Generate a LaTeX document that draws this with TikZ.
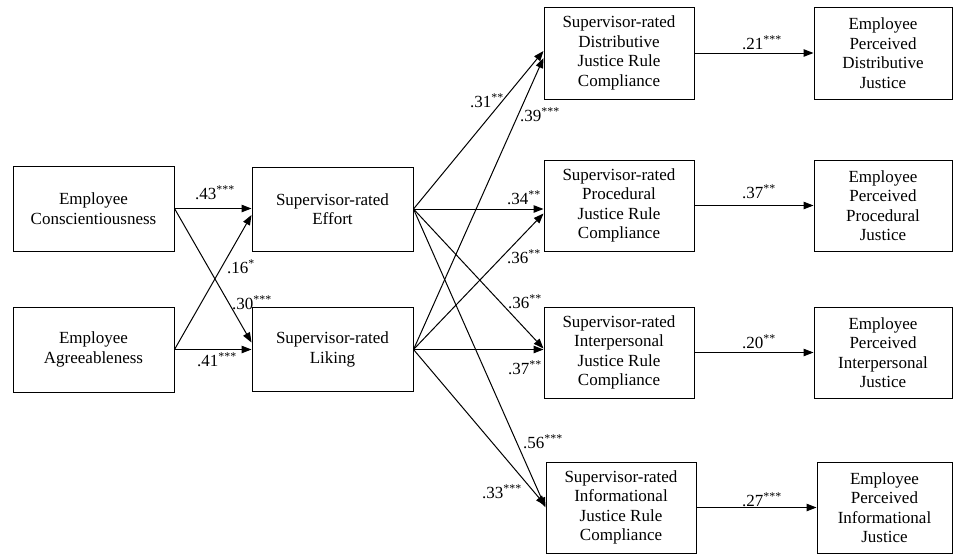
\documentclass[tikz,border=0pt]{standalone}
\usepackage{fontspec}
\setmainfont{Liberation Serif}
\usetikzlibrary{arrows.meta}
\begin{document}
\begin{tikzpicture}[x=1pt,y=-1pt,
  box/.style={draw, line width=1pt, align=center, inner sep=0pt, font=\fontsize{17}{19.5}\selectfont},
  arr/.style={-{Triangle[length=10pt,width=7.5pt]}, line width=1pt},
  lab/.style={anchor=west, inner sep=0pt, font=\fontsize{17}{19.5}\selectfont}]
\useasboundingbox (0,0) rectangle (953,554);
% left column
\node[box, minimum width=161pt, minimum height=85pt] (cons) at (93.5,208.5) {Employee\\Conscientiousness};
\node[box, minimum width=161pt, minimum height=85pt] (agr) at (93.5,349.5) {Employee\\Agreeableness};
% middle column
\node[box, minimum width=161pt, minimum height=84pt] (eff) at (332.5,209) {Supervisor-rated\\Effort};
\node[box, minimum width=161pt, minimum height=84pt] (lik) at (332.5,349.5) {Supervisor-rated\\Liking};
% rule compliance column
\node[box, minimum width=150pt, minimum height=92pt] (dist) at (619,53) {Supervisor-rated\\Distributive\\Justice Rule\\Compliance};
\node[box, minimum width=150pt, minimum height=91pt] (proc) at (619,205.5) {Supervisor-rated\\Procedural\\Justice Rule\\Compliance};
\node[box, minimum width=150pt, minimum height=91pt] (inter) at (619,352.5) {Supervisor-rated\\Interpersonal\\Justice Rule\\Compliance};
\node[box, minimum width=150pt, minimum height=91pt] (info) at (621,507.5) {Supervisor-rated\\Informational\\Justice Rule\\Compliance};
% perceived column
\node[box, minimum width=138pt, minimum height=92pt] (pdist) at (883,53) {Employee\\Perceived\\Distributive\\Justice};
\node[box, minimum width=138pt, minimum height=91pt] (pproc) at (883,205.5) {Employee\\Perceived\\Procedural\\Justice};
\node[box, minimum width=138pt, minimum height=91pt] (pinter) at (883,352.5) {Employee\\Perceived\\Interpersonal\\Justice};
\node[box, minimum width=135pt, minimum height=91pt] (pinfo) at (884.5,507.5) {Employee\\Perceived\\Informational\\Justice};
% left arrows
\draw[arr] (cons.east) -- (cons.east -| eff.west);
\draw[arr] (cons.east) -- ([yshift=7pt]lik.west);
\draw[arr] (agr.east) -- ([yshift=-6pt]eff.west);
\draw[arr] (agr.east) -- (agr.east -| lik.west);
% middle arrows
\draw[arr] (eff.east) -- ([yshift=2pt]dist.west);
\draw[arr] (lik.east) -- ([yshift=-5pt]dist.west);
\draw[arr] (eff.east) -- (eff.east -| proc.west);
\draw[arr] (lik.east) -- ([yshift=-8pt]proc.west);
\draw[arr] (eff.east) -- ([yshift=4pt]inter.west);
\draw[arr] (lik.east) -- (lik.east -| inter.west);
\draw[arr] (eff.east) -- (info.west);
\draw[arr] (lik.east) -- ([yshift=2pt]info.west);
% right arrows
\draw[arr] (dist.east) -- (pdist.west);
\draw[arr] (proc.east) -- (pproc.west);
\draw[arr] (inter.east) -- (pinter.west);
\draw[arr] (info.east) -- (pinfo.west);
% labels
\node[lab] (l43) at (195,193) {.43\textsuperscript{***}};
\node[lab] (l16) at (227,267) {.16\textsuperscript{*}};
\node[lab] (l30) at (232,303) {.30\textsuperscript{***}};
\node[lab] (l41) at (197,360) {.41\textsuperscript{***}};
\node[lab] (l31) at (470,101) {.31\textsuperscript{**}};
\node[lab] (l39) at (520,115) {.39\textsuperscript{***}};
\node[lab] (l34) at (507,198) {.34\textsuperscript{**}};
\node[lab] (l36a) at (507,257) {.36\textsuperscript{**}};
\node[lab] (l36b) at (508,302) {.36\textsuperscript{**}};
\node[lab] (l37a) at (508,368) {.37\textsuperscript{**}};
\node[lab] (l56) at (523,442) {.56\textsuperscript{***}};
\node[lab] (l33) at (482,492) {.33\textsuperscript{***}};
\node[lab] (l21) at (742,43) {.21\textsuperscript{***}};
\node[lab] (l37b) at (742,192) {.37\textsuperscript{**}};
\node[lab] (l20) at (742,342) {.20\textsuperscript{**}};
\node[lab] (l27) at (742,500) {.27\textsuperscript{***}};
\end{tikzpicture}
\end{document}
